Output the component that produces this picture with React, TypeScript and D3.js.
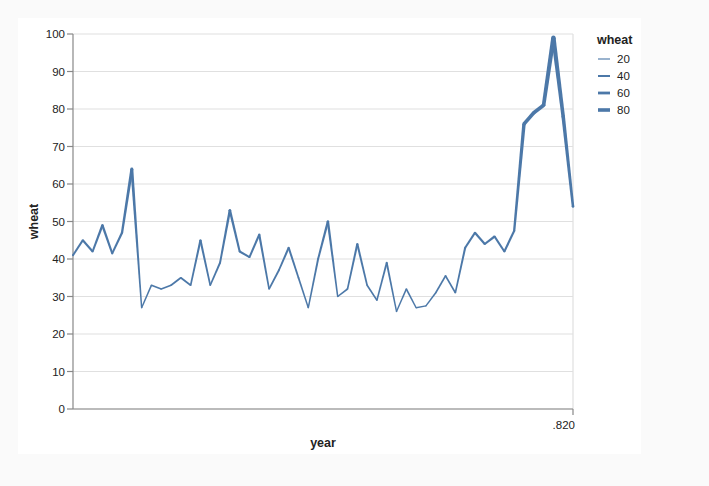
import React from "react";
import * as d3 from "d3";

const years = [1565,1570,1575,1580,1585,1590,1595,1600,1605,1610,1615,1620,1625,1630,1635,1640,1645,1650,1655,1660,1665,1670,1675,1680,1685,1690,1695,1700,1705,1710,1715,1720,1725,1730,1735,1740,1745,1750,1755,1760,1765,1770,1775,1780,1785,1790,1795,1800,1805,1810,1815,1820];
const wheat = [41,45,42,49,41.5,47,64,27,33,32,33,35,33,45,33,39,53,42,40.5,46.5,32,37,43,35,27,40,50,30,32,44,33,29,39,26,32,27,27.5,31,35.5,31,43,47,44,46,42,47.5,76,79,81,99,78,54];
const yTicks = [0,10,20,30,40,50,60,70,80,90,100];
const xTicks = [1820];
const xTickLabels = [".820"];
const legendValues = [20,40,60,80];

const COLOR = "#4c78a8";
const FONT = "'Liberation Sans', Arial, sans-serif";

export default function App() {
  const W = 709, H = 486;
  const left = 73, right = 573, top = 34, bottom = 409;
  const x = d3.scaleLinear().domain([1565, 1820]).range([left, right]);
  const y = d3.scaleLinear().domain([0, 100]).range([bottom, top]);
  const sw = d3.scaleLinear().domain([0, 99]).range([0.3, 4.4]);

  const pts = years.map((yr, i) => ({ x: x(yr), y: y(wheat[i]), r: sw(wheat[i]) / 2 }));
  const polys: string[] = [];
  for (let i = 0; i < pts.length - 1; i++) {
    const a = pts[i], b = pts[i + 1];
    const dx = b.x - a.x, dy = b.y - a.y;
    const len = Math.hypot(dx, dy) || 1;
    const nx = -dy / len, ny = dx / len;
    polys.push(
      [
        [a.x + nx * a.r, a.y + ny * a.r],
        [b.x + nx * b.r, b.y + ny * b.r],
        [b.x - nx * b.r, b.y - ny * b.r],
        [a.x - nx * a.r, a.y - ny * a.r],
      ].map((p) => p.join(",")).join(" ")
    );
  }

  return (
    <svg width={W} height={H} style={{ position: "absolute", left: 0, top: 0, background: "#fafafa" }}>
      <rect x={18} y={18} width={623} height={436} fill="#fff" />
      {yTicks.map((t) => (
        <g key={t}>
          <line x1={left} x2={right} y1={y(t)} y2={y(t)} stroke="#e0e0e0" strokeWidth={1.2} />
          <line x1={left - 6} x2={left} y1={y(t)} y2={y(t)} stroke="#888" strokeWidth={1.2} />
          <text x={left - 8} y={y(t)} dy="0.35em" textAnchor="end" fontFamily={FONT} fontSize={11.5} fill="#222">{t}</text>
        </g>
      ))}
      <line x1={right} x2={right} y1={top} y2={bottom} stroke="#e0e0e0" strokeWidth={1.2} />
      <line x1={left} x2={left} y1={top} y2={bottom} stroke="#888" strokeWidth={1.2} />
      <line x1={left} x2={right} y1={bottom} y2={bottom} stroke="#888" strokeWidth={1.2} />
      {xTicks.map((t, i) => (
        <g key={t}>
          <line x1={x(t)} x2={x(t)} y1={bottom} y2={bottom + 6} stroke="#888" strokeWidth={1.2} />
          <text x={x(t) + 2} y={bottom + 20} textAnchor="end" fontFamily={FONT} fontSize={11.5} fill="#222">{xTickLabels[i]}</text>
        </g>
      ))}
      <text x={(left + right) / 2} y={447} textAnchor="middle" fontFamily={FONT} fontSize={12.5} fontWeight="bold" fill="#222">year</text>
      <text transform={`translate(38,${(top + bottom) / 2}) rotate(-90)`} textAnchor="middle" fontFamily={FONT} fontSize={12.5} fontWeight="bold" fill="#222">wheat</text>
      <g fill={COLOR}>
        {polys.map((p, i) => <polygon key={i} points={p} />)}
        {pts.map((p, i) => <circle key={i} cx={p.x} cy={p.y} r={p.r} />)}
      </g>
      <text x={597} y={44} fontFamily={FONT} fontSize={12.5} fontWeight="bold" fill="#222">wheat</text>
      {legendValues.map((v, i) => (
        <g key={v}>
          <line x1={598} x2={610} y1={59 + i * 17} y2={59 + i * 17} stroke={COLOR} strokeWidth={sw(v)} />
          <text x={617} y={59 + i * 17} dy="0.35em" fontFamily={FONT} fontSize={11.5} fill="#222">{v}</text>
        </g>
      ))}
    </svg>
  );
}
